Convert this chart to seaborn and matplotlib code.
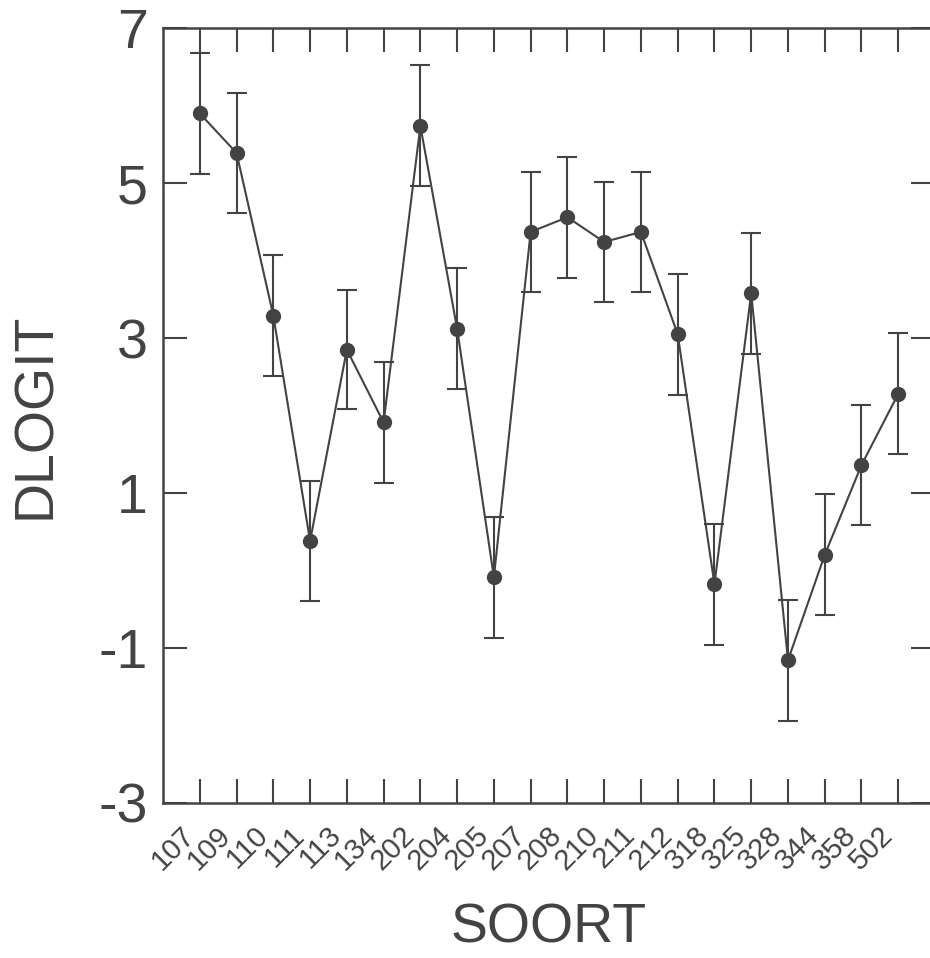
import pandas as pd
import numpy as np
import matplotlib
matplotlib.use("Agg")
import matplotlib.pyplot as plt
import seaborn as sns

# Gegevens
soort = ['107', '109', '110', '111', '113', '134', '202', '204', '205', '207',
         '208', '210', '211', '212', '318', '325', '328', '344', '358', '502']
dlogit = [5.90, 5.39, 3.29, 0.38, 2.85, 1.91, 5.74, 3.12, -0.09, 4.37,
          4.56, 4.24, 4.37, 3.05, -0.18, 3.58, -1.16, 0.20, 1.36, 2.28]
fout = [0.78, 0.77, 0.78, 0.78, 0.77, 0.78, 0.78, 0.78, 0.78, 0.78,
        0.78, 0.78, 0.78, 0.78, 0.78, 0.78, 0.78, 0.78, 0.78, 0.78]
y_ticks = [-3, -1, 1, 3, 5, 7]

df = pd.DataFrame({'SOORT': soort, 'DLOGIT': dlogit, 'fout': fout})
df['pos'] = np.arange(len(df))

sns.set_style("ticks")
plt.rcParams['font.family'] = ['Liberation Sans', 'DejaVu Sans']

kleur = '#434343'

fig = plt.figure(figsize=(9.3, 9.58), dpi=100)
ax = fig.add_axes([0.1753, 0.1621, 0.8301, 0.8084])

# foutbalken
ax.errorbar(df['pos'], df['DLOGIT'], yerr=df['fout'], fmt='none',
            ecolor=kleur, elinewidth=1.5, capsize=7.5, capthick=1.5, zorder=1)

# lijn met punten
sns.lineplot(data=df, x='pos', y='DLOGIT', color=kleur, linewidth=1.5,
             marker='o', markersize=11, markeredgewidth=0, ax=ax, zorder=2)

ax.set_xlim(-1, len(df))
ax.set_ylim(-3, 7)
ax.set_yticks(y_ticks)
ax.set_xticks(df['pos'])
ax.set_xticklabels(df['SOORT'], rotation=45, ha='right', fontsize=21, color=kleur)
ax.set_yticklabels([str(t) for t in y_ticks], fontsize=40, color=kleur)

ax.tick_params(axis='both', direction='in', length=17, width=1.5, color=kleur,
               top=True, right=True)
ax.tick_params(axis='x', pad=13)
ax.tick_params(axis='y', pad=11)

for s in ax.spines.values():
    s.set_visible(True)
    s.set_linewidth(1.8)
    s.set_color(kleur)

ax.set_xlabel('SOORT', fontsize=40, color=kleur, labelpad=20)
ax.set_ylabel('DLOGIT', fontsize=40, color=kleur, labelpad=26)

fig.savefig('out.png', dpi=100)
